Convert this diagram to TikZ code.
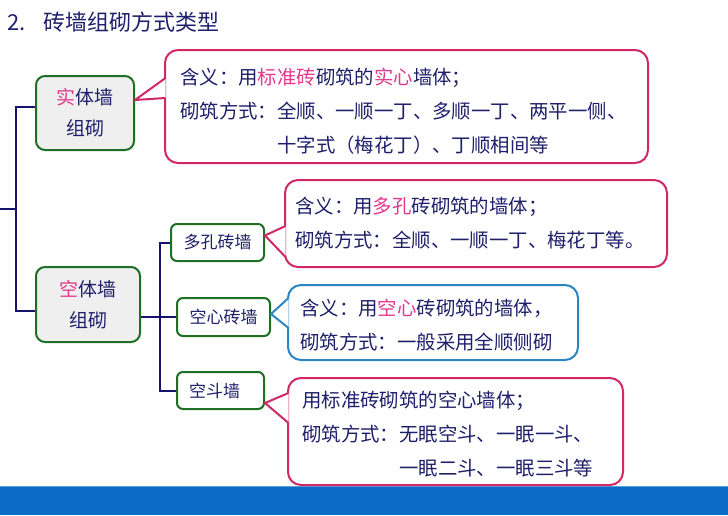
\documentclass[tikz,border=0pt]{standalone}
\usepackage{fontspec}
\setmainfont{Noto Sans CJK SC}
\usetikzlibrary{calc}
\definecolor{navy}{RGB}{31,31,107}
\definecolor{hl}{RGB}{228,56,140}
\definecolor{pk}{RGB}{208,40,100}
\definecolor{bl}{RGB}{42,134,192}
\definecolor{gr}{RGB}{30,110,35}
\definecolor{boxfill}{RGB}{239,239,239}
\definecolor{ln}{RGB}{20,20,110}
\definecolor{barblue}{RGB}{10,108,196}
\definecolor{barlight}{RGB}{90,160,220}
\begin{document}
\begin{tikzpicture}[x=1pt,y=-1pt,
  mainbox/.style={draw=gr, line width=2pt, fill=boxfill, rounded corners=9pt, align=center, inner sep=0pt, text=navy, font=\fontsize{19pt}{31pt}\selectfont},
  subbox/.style={draw=gr, line width=2pt, fill=white, rounded corners=6pt, inner sep=0pt, text=navy, font=\fontsize{17pt}{20pt}\selectfont},
  calloutframe/.style={line width=2pt, fill=white, rounded corners=13pt, inner sep=0pt},
  ctext/.style={anchor=west, align=left, inner sep=0pt, text=navy, font=\fontsize{19.4pt}{34pt}\selectfont},
  conn/.style={draw=ln, line width=2pt},
  ptr/.style={line width=2pt, fill=white, line join=round}
]
\useasboundingbox (0,0) rectangle (728,515);

% title
\node[anchor=west, inner sep=0pt, text=navy, font=\fontsize{22pt}{26pt}\selectfont] (title) at (7,22) {2.\hspace{18pt}砖墙组砌方式类型};

% bottom bar
\fill[barblue] (0,486) rectangle (728,515);
\draw[barlight, line width=1pt] (0,486) -- (728,486);

% main boxes
\node[mainbox, minimum width=98pt, minimum height=74pt] (b1) at (85,113) {\textcolor{hl}{实}体墙\\组砌};
\node[mainbox, minimum width=104pt, minimum height=75pt] (b2) at (88,304.5) {\textcolor{hl}{空}体墙\\组砌};

% sub boxes
\node[subbox, minimum width=93pt, minimum height=37pt] (s1) at (217.5,242.5) {多孔砖墙};
\node[subbox, minimum width=93pt, minimum height=38pt] (s2) at (223.5,317) {空心砖墙};
\node[subbox, minimum width=87pt, minimum height=37pt] (s3) at (220.5,390.5) {\hspace*{-12pt}空斗墙};

% connectors
\coordinate (root) at (0,209);
\coordinate (tk) at (16,209);
\draw[conn] (root) -- (tk);
\draw[conn] ($(b1.west)+(0,-6)$) -| (tk) |- ($(b2.west)+(0,6.5)$);
\coordinate (jn) at ($(s2.west)+(-16,0)$);
\draw[conn] (b2.east |- s2.west) -- (s2.west);
\draw[conn] (s1.west) -| (jn) |- (s3.west);

% callout 1
\node[calloutframe, draw=pk, minimum width=483pt, minimum height=113pt] (c1) at (406.5,106.5) {};
\filldraw[ptr, draw=pk] ($(c1.west)+(1.5,-28.5)$) -- ($(b1.east)+(0,-13)$) -- ($(c1.west)+(1.5,-8.5)$);
\node[ctext] (c1t) at (180,111) {含义：用\textcolor{hl}{标准砖}砌筑的\textcolor{hl}{实心}墙体；\\
砌筑方式：全顺、一顺一丁、多顺一丁、两平一侧、\\
\phantom{砌筑方式：}十字式（梅花丁）、丁顺相间等};

% callout 2
\node[calloutframe, draw=pk, minimum width=382pt, minimum height=87pt] (c2) at (476,223.5) {};
\filldraw[ptr, draw=pk] ($(c2.west)+(1.5,2.5)$) -- ($(s1.east)+(0,-7)$) -- ($(c2.west)+(1.5,33.5)$);
\node[ctext] (c2t) at (295,223) {含义：用\textcolor{hl}{多孔}砖砌筑的墙体；\\
砌筑方式：全顺、一顺一丁、梅花丁等。};

% callout 3
\node[calloutframe, draw=bl, minimum width=290pt, minimum height=75pt] (c3) at (433,322.5) {};
\filldraw[ptr, draw=bl] ($(c3.west)+(1.5,-24.5)$) -- ($(s2.east)+(0,-3)$) -- ($(c3.west)+(1.5,5.5)$);
\node[ctext] (c3t) at (300,325.5) {含义：用\textcolor{hl}{空心}砖砌筑的墙体，\\
砌筑方式：一般采用全顺侧砌};

% callout 4
\node[calloutframe, draw=pk, minimum width=335pt, minimum height=107pt] (c4) at (455.5,431.5) {};
\filldraw[ptr, draw=pk] ($(c4.west)+(1.5,-38.5)$) -- ($(s3.east)+(0,12.5)$) -- ($(c4.west)+(1.5,-8.5)$);
\node[ctext] (c4t) at (302,434) {用标准砖砌筑的空心墙体；\\
砌筑方式：无眠空斗、一眠一斗、\\
\phantom{砌筑方式：}一眠二斗、一眠三斗等};
\end{tikzpicture}
\end{document}
